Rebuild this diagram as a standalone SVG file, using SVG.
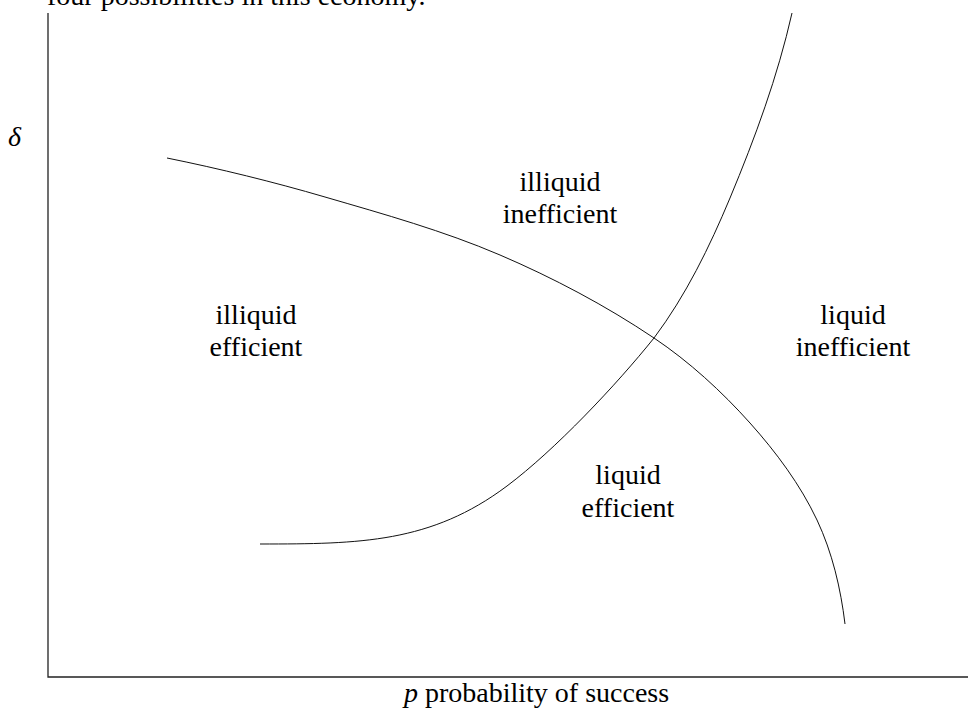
<svg xmlns="http://www.w3.org/2000/svg" width="968" height="709" viewBox="0 0 968 709">
<style>
.t{font-family:"Liberation Serif","Times New Roman",serif;font-size:28px;fill:#000}
.c{text-anchor:middle}
.ax{stroke:#222;stroke-width:1.3;fill:none}
.cv{stroke:#111;stroke-width:1;fill:none}
</style>
<rect width="968" height="709" fill="#fff"/>
<text class="t" x="47" y="5">four possibilities in this economy.</text>
<g id="axes">
<path class="ax" d="M48,13 V677 H968"/>
<text class="t" x="8" y="146" font-style="italic">δ</text>
<text class="t" x="404" y="702"><tspan font-style="italic">p</tspan> probability of success</text>
</g>
<g id="curves">
<path id="curve-decreasing" class="cv" d="M167,158 C220.1,168.8 273,181.8 325,197 C384,214.2 443.5,230.8 500,255 C553.6,278 605.6,305.5 654,338 C689.4,361.8 721.5,391.2 750,423 C776.2,452.3 800.2,484.5 817,520 C832.3,552.5 840.7,588.4 845,624"/>
<path id="curve-increasing" class="cv" d="M260,544 C360,544 431,543 507,486 C555,450 616.5,384.8 654,338 C685.8,295.6 709.6,246.9 730,198 C755,138 777.7,76.4 792,13"/>
</g>
<g id="region-illiquid-inefficient">
<text class="t c" x="560" y="191">illiquid</text>
<text class="t c" x="560" y="223">inefficient</text>
</g>
<g id="region-illiquid-efficient">
<text class="t c" x="256" y="324">illiquid</text>
<text class="t c" x="256" y="356">efficient</text>
</g>
<g id="region-liquid-inefficient">
<text class="t c" x="853" y="324">liquid</text>
<text class="t c" x="853" y="356">inefficient</text>
</g>
<g id="region-liquid-efficient">
<text class="t c" x="628" y="484">liquid</text>
<text class="t c" x="628" y="517">efficient</text>
</g>
</svg>
